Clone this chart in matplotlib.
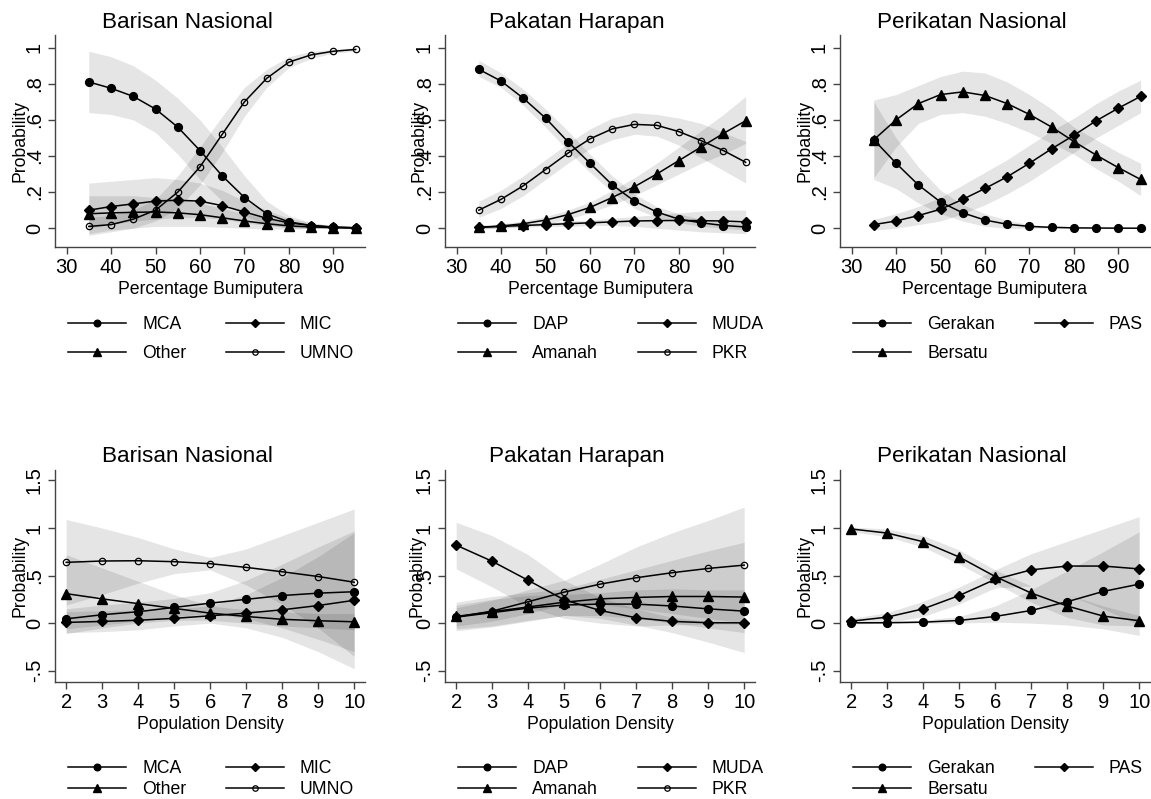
import matplotlib
matplotlib.use('Agg')
import matplotlib.pyplot as plt
from matplotlib.lines import Line2D

plt.rcParams['font.family'] = ['Liberation Sans', 'DejaVu Sans']

W, H = 1151, 799

# ---------------- data ----------------
pct = [35, 40, 45, 50, 55, 60, 65, 70, 75, 80, 85, 90, 95]
den = [2, 3, 4, 5, 6, 7, 8, 9, 10]

# Barisan Nasional vs % Bumiputera
bn_p_mca = [0.81, 0.775, 0.73, 0.66, 0.56, 0.43, 0.29, 0.17, 0.08, 0.035, 0.015, 0.005, 0.002]
bn_p_mca_lo = [0.64, 0.63, 0.60, 0.53, 0.41, 0.27, 0.15, 0.07, 0.02, 0.0, 0.0, 0.0, 0.0]
bn_p_mca_hi = [0.98, 0.95, 0.90, 0.82, 0.72, 0.60, 0.45, 0.29, 0.15, 0.07, 0.03, 0.01, 0.005]
bn_p_mic = [0.10, 0.12, 0.135, 0.15, 0.155, 0.15, 0.125, 0.09, 0.055, 0.03, 0.015, 0.007, 0.003]
bn_p_mic_lo = [0.0, 0.02, 0.04, 0.05, 0.06, 0.06, 0.05, 0.03, 0.015, 0.005, 0.0, 0.0, 0.0]
bn_p_mic_hi = [0.25, 0.26, 0.27, 0.28, 0.27, 0.25, 0.21, 0.15, 0.10, 0.055, 0.03, 0.015, 0.007]
bn_p_oth = [0.08, 0.085, 0.088, 0.09, 0.085, 0.075, 0.058, 0.04, 0.025, 0.013, 0.007, 0.003, 0.001]
bn_p_oth_lo = [-0.03, -0.01, 0.0, 0.01, 0.01, 0.01, 0.005, 0.0, -0.005, -0.005, -0.002, 0.0, 0.0]
bn_p_oth_hi = [0.18, 0.18, 0.18, 0.17, 0.16, 0.14, 0.11, 0.08, 0.055, 0.03, 0.016, 0.008, 0.003]
bn_p_umno = [0.01, 0.02, 0.05, 0.10, 0.20, 0.34, 0.52, 0.70, 0.83, 0.92, 0.96, 0.98, 0.99]
bn_p_umno_lo = [-0.04, -0.02, 0.0, 0.04, 0.11, 0.24, 0.42, 0.62, 0.78, 0.89, 0.94, 0.97, 0.98]
bn_p_umno_hi = [0.06, 0.07, 0.10, 0.16, 0.29, 0.45, 0.62, 0.78, 0.88, 0.95, 0.98, 0.99, 1.0]

# Pakatan Harapan vs % Bumiputera
ph_p_dap = [0.88, 0.815, 0.72, 0.61, 0.48, 0.36, 0.24, 0.15, 0.09, 0.05, 0.03, 0.015, 0.007]
ph_p_dap_lo = [0.84, 0.78, 0.68, 0.56, 0.43, 0.31, 0.20, 0.11, 0.06, 0.03, 0.01, 0.0, -0.01]
ph_p_dap_hi = [0.93, 0.86, 0.77, 0.66, 0.54, 0.41, 0.29, 0.19, 0.12, 0.08, 0.05, 0.035, 0.025]
ph_p_muda = [0.005, 0.01, 0.015, 0.02, 0.025, 0.03, 0.035, 0.04, 0.042, 0.043, 0.042, 0.04, 0.035]
ph_p_muda_lo = [-0.005, 0.0, 0.005, 0.01, 0.01, 0.015, 0.015, 0.01, 0.0, -0.01, -0.02, -0.025, -0.03]
ph_p_muda_hi = [0.015, 0.02, 0.025, 0.03, 0.04, 0.045, 0.055, 0.065, 0.075, 0.085, 0.095, 0.10, 0.10]
ph_p_amanah = [0.005, 0.012, 0.025, 0.045, 0.075, 0.115, 0.17, 0.23, 0.30, 0.375, 0.45, 0.525, 0.595]
ph_p_amanah_lo = [-0.005, 0.0, 0.01, 0.025, 0.05, 0.085, 0.13, 0.18, 0.24, 0.30, 0.36, 0.41, 0.47]
ph_p_amanah_hi = [0.015, 0.025, 0.04, 0.065, 0.10, 0.145, 0.21, 0.28, 0.36, 0.45, 0.54, 0.63, 0.73]
ph_p_pkr = [0.10, 0.16, 0.235, 0.325, 0.415, 0.495, 0.55, 0.575, 0.57, 0.535, 0.485, 0.43, 0.365]
ph_p_pkr_lo = [0.06, 0.11, 0.18, 0.27, 0.36, 0.44, 0.49, 0.52, 0.51, 0.46, 0.39, 0.32, 0.25]
ph_p_pkr_hi = [0.15, 0.21, 0.29, 0.38, 0.47, 0.55, 0.61, 0.64, 0.63, 0.61, 0.58, 0.53, 0.48]

# Perikatan Nasional vs % Bumiputera
pn_p_ger = [0.49, 0.36, 0.24, 0.145, 0.085, 0.045, 0.022, 0.01, 0.005, 0.002, 0.001, 0.0005, 0.0]
pn_p_ger_lo = [0.27, 0.22, 0.14, 0.08, 0.04, 0.01, 0.0, 0.0, 0.0, 0.0, 0.0, 0.0, 0.0]
pn_p_ger_hi = [0.70, 0.50, 0.34, 0.21, 0.13, 0.08, 0.045, 0.02, 0.01, 0.005, 0.002, 0.001, 0.001]
pn_p_pas = [0.02, 0.04, 0.07, 0.105, 0.16, 0.22, 0.285, 0.36, 0.44, 0.515, 0.595, 0.665, 0.73]
pn_p_pas_lo = [-0.01, 0.0, 0.02, 0.04, 0.08, 0.13, 0.19, 0.26, 0.34, 0.42, 0.50, 0.57, 0.64]
pn_p_pas_hi = [0.05, 0.08, 0.12, 0.17, 0.24, 0.31, 0.38, 0.46, 0.54, 0.61, 0.69, 0.76, 0.82]
pn_p_ber = [0.49, 0.60, 0.69, 0.74, 0.755, 0.735, 0.69, 0.63, 0.56, 0.48, 0.405, 0.335, 0.27]
pn_p_ber_lo = [0.28, 0.45, 0.58, 0.63, 0.64, 0.62, 0.58, 0.53, 0.47, 0.41, 0.33, 0.26, 0.18]
pn_p_ber_hi = [0.71, 0.74, 0.79, 0.84, 0.87, 0.86, 0.81, 0.74, 0.66, 0.56, 0.49, 0.42, 0.36]

# Barisan Nasional vs population density
bn_d_mca = [0.045, 0.088, 0.12, 0.165, 0.21, 0.25, 0.29, 0.315, 0.33]
bn_d_mca_lo = [-0.06, -0.02, 0.02, 0.07, 0.10, 0.05, -0.05, -0.17, -0.30]
bn_d_mca_hi = [0.15, 0.19, 0.22, 0.26, 0.32, 0.45, 0.62, 0.80, 0.97]
bn_d_mic = [0.007, 0.018, 0.03, 0.05, 0.077, 0.105, 0.14, 0.185, 0.24]
bn_d_mic_lo = [-0.10, -0.09, -0.07, -0.03, 0.0, -0.05, -0.15, -0.30, -0.48]
bn_d_mic_hi = [0.12, 0.13, 0.14, 0.15, 0.18, 0.30, 0.48, 0.70, 0.95]
bn_d_oth = [0.31, 0.255, 0.205, 0.155, 0.105, 0.07, 0.04, 0.025, 0.014]
bn_d_oth_lo = [-0.11, -0.05, 0.0, 0.03, 0.03, 0.0, -0.03, -0.05, -0.07]
bn_d_oth_hi = [0.72, 0.58, 0.44, 0.30, 0.18, 0.14, 0.12, 0.10, 0.10]
bn_d_umno = [0.639, 0.653, 0.656, 0.646, 0.625, 0.586, 0.54, 0.49, 0.43]
bn_d_umno_lo = [0.19, 0.30, 0.42, 0.52, 0.56, 0.40, 0.20, -0.05, -0.35]
bn_d_umno_hi = [1.09, 1.00, 0.90, 0.78, 0.69, 0.78, 0.92, 1.06, 1.20]

# Pakatan Harapan vs population density
ph_d_dap = [0.063, 0.11, 0.158, 0.19, 0.20, 0.20, 0.18, 0.15, 0.126]
ph_d_dap_lo = [-0.06, -0.03, 0.03, 0.08, 0.08, 0.05, 0.0, -0.05, -0.10]
ph_d_dap_hi = [0.19, 0.25, 0.29, 0.30, 0.32, 0.35, 0.36, 0.35, 0.35]
ph_d_muda = [0.82, 0.65, 0.45, 0.245, 0.133, 0.056, 0.018, 0.004, 0.003]
ph_d_muda_lo = [0.57, 0.38, 0.17, 0.05, 0.0, -0.03, -0.02, -0.01, -0.01]
ph_d_muda_hi = [1.06, 0.92, 0.72, 0.45, 0.27, 0.15, 0.06, 0.02, 0.015]
ph_d_amanah = [0.07, 0.12, 0.17, 0.22, 0.255, 0.27, 0.28, 0.28, 0.274]
ph_d_amanah_lo = [-0.08, -0.04, 0.02, 0.08, 0.05, -0.02, -0.10, -0.20, -0.31]
ph_d_amanah_hi = [0.22, 0.28, 0.32, 0.36, 0.46, 0.56, 0.66, 0.76, 0.85]
ph_d_pkr = [0.063, 0.126, 0.225, 0.326, 0.41, 0.477, 0.53, 0.575, 0.61]
ph_d_pkr_lo = [-0.03, 0.02, 0.10, 0.20, 0.20, 0.15, 0.10, 0.05, 0.0]
ph_d_pkr_hi = [0.16, 0.24, 0.35, 0.45, 0.62, 0.80, 0.95, 1.08, 1.22]

# Perikatan Nasional vs population density
pn_d_ger = [0.003, 0.004, 0.01, 0.028, 0.07, 0.133, 0.225, 0.333, 0.41]
pn_d_ger_lo = [0.0, 0.0, 0.0, 0.0, 0.01, 0.0, -0.02, -0.06, -0.13]
pn_d_ger_hi = [0.01, 0.01, 0.03, 0.07, 0.18, 0.35, 0.55, 0.75, 0.96]
pn_d_pas = [0.02, 0.063, 0.15, 0.29, 0.46, 0.56, 0.60, 0.60, 0.57]
pn_d_pas_lo = [-0.01, 0.0, 0.07, 0.20, 0.37, 0.39, 0.30, 0.15, -0.02]
pn_d_pas_hi = [0.05, 0.11, 0.23, 0.38, 0.56, 0.73, 0.86, 0.99, 1.12]
pn_d_ber = [0.99, 0.947, 0.856, 0.695, 0.49, 0.316, 0.18, 0.074, 0.025]
pn_d_ber_lo = [0.96, 0.91, 0.80, 0.62, 0.42, 0.22, 0.06, -0.02, -0.03]
pn_d_ber_hi = [1.01, 0.99, 0.92, 0.77, 0.56, 0.39, 0.30, 0.18, 0.08]

titles = ['Barisan Nasional', 'Pakatan Harapan', 'Perikatan Nasional']
xlabels = ['Percentage Bumiputera', 'Population Density']
ylabel = 'Probability'
yticks_top = [0, 0.2, 0.4, 0.6, 0.8, 1.0]
yticklabels_top = ['0', '.2', '.4', '.6', '.8', '1']
yticks_bot = [-0.5, 0, 0.5, 1.0, 1.5]
yticklabels_bot = ['-.5', '0', '.5', '1', '1.5']
xticks_top = [30, 40, 50, 60, 70, 80, 90]
xticks_bot = [2, 3, 4, 5, 6, 7, 8, 9, 10]

# ---------------- styles ----------------
STY = {
    'fc': dict(marker='o', ms=5.6, mfc='black', mec='black'),
    'dm': dict(marker='D', ms=5.0, mfc='black', mec='black'),
    'tr': dict(marker='^', ms=6.8, mfc='black', mec='black'),
    'oc': dict(marker='o', ms=4.6, mfc='none', mec='black', mew=0.9),
}

panels_top = [
    [('MCA', 'fc', bn_p_mca, bn_p_mca_lo, bn_p_mca_hi),
     ('MIC', 'dm', bn_p_mic, bn_p_mic_lo, bn_p_mic_hi),
     ('Other', 'tr', bn_p_oth, bn_p_oth_lo, bn_p_oth_hi),
     ('UMNO', 'oc', bn_p_umno, bn_p_umno_lo, bn_p_umno_hi)],
    [('DAP', 'fc', ph_p_dap, ph_p_dap_lo, ph_p_dap_hi),
     ('MUDA', 'dm', ph_p_muda, ph_p_muda_lo, ph_p_muda_hi),
     ('Amanah', 'tr', ph_p_amanah, ph_p_amanah_lo, ph_p_amanah_hi),
     ('PKR', 'oc', ph_p_pkr, ph_p_pkr_lo, ph_p_pkr_hi)],
    [('Gerakan', 'fc', pn_p_ger, pn_p_ger_lo, pn_p_ger_hi),
     ('PAS', 'dm', pn_p_pas, pn_p_pas_lo, pn_p_pas_hi),
     ('Bersatu', 'tr', pn_p_ber, pn_p_ber_lo, pn_p_ber_hi)],
]
panels_bot = [
    [('MCA', 'fc', bn_d_mca, bn_d_mca_lo, bn_d_mca_hi),
     ('MIC', 'dm', bn_d_mic, bn_d_mic_lo, bn_d_mic_hi),
     ('Other', 'tr', bn_d_oth, bn_d_oth_lo, bn_d_oth_hi),
     ('UMNO', 'oc', bn_d_umno, bn_d_umno_lo, bn_d_umno_hi)],
    [('DAP', 'fc', ph_d_dap, ph_d_dap_lo, ph_d_dap_hi),
     ('MUDA', 'dm', ph_d_muda, ph_d_muda_lo, ph_d_muda_hi),
     ('Amanah', 'tr', ph_d_amanah, ph_d_amanah_lo, ph_d_amanah_hi),
     ('PKR', 'oc', ph_d_pkr, ph_d_pkr_lo, ph_d_pkr_hi)],
    [('Gerakan', 'fc', pn_d_ger, pn_d_ger_lo, pn_d_ger_hi),
     ('PAS', 'dm', pn_d_pas, pn_d_pas_lo, pn_d_pas_hi),
     ('Bersatu', 'tr', pn_d_ber, pn_d_ber_lo, pn_d_ber_hi)],
]

fig = plt.figure(figsize=(W / 100, H / 100), dpi=100)
fig.patch.set_facecolor('white')

lefts = [55, 445, 840]
ylab_x = [[-0.087, -0.058, -0.087], [-0.084, -0.063, -0.087]]
AXW = 310
AX_COLOR = '#444444'


def px2fig(x, y):
    return x / W, 1 - y / H


def draw_panel(col, row, series, xs):
    if row == 0:
        top, bot = 35, 247
        ylim = (-0.104, 1.07)
        xlim = (27.4, 97.1)
        yt, ytl, xt = yticks_top, yticklabels_top, xticks_top
        title_base = 28
        leg_top = 316
        lsp = 0.70
    else:
        top, bot = 470, 681.7
        ylim = (-0.616, 1.61)
        xlim = (1.69, 10.3)
        yt, ytl, xt = yticks_bot, yticklabels_bot, xticks_bot
        title_base = 462
        leg_top = 760
        lsp = 0.22
    l = lefts[col]
    ax = fig.add_axes([l / W, 1 - bot / H, AXW / W, (bot - top) / H])
    ax.set_facecolor('none')
    for name, sty, v, lo, hi in series:
        ax.fill_between(xs, lo, hi, color='black', alpha=0.1, lw=0, zorder=1)
    for name, sty, v, lo, hi in series:
        ax.plot(xs, v, color='black', lw=1.1, zorder=3, **STY[sty])
    ax.set_xlim(*xlim)
    ax.set_ylim(*ylim)
    ax.set_xticks(xt)
    ax.set_yticks(yt)
    ax.set_yticklabels(ytl, rotation=90, va='center')
    for s in ['top', 'right']:
        ax.spines[s].set_visible(False)
    for s in ['left', 'bottom']:
        ax.spines[s].set_color(AX_COLOR)
        ax.spines[s].set_linewidth(1.0)
    ax.tick_params(axis='both', colors=AX_COLOR, labelcolor='black', length=5,
                   width=1.0, labelsize=14.5, pad=3)
    ax.set_xlabel(xlabels[row], fontsize=12.7, labelpad=3)
    ax.set_ylabel(ylabel, fontsize=12.7)
    ax.yaxis.set_label_coords(ylab_x[row][col], 0.5)
    fx, fy = px2fig(l + 132, title_base)
    fig.text(fx, fy, titles[col], fontsize=16.2, ha='center', va='baseline')

    names = [s[0] for s in series]
    if len(names) == 4:
        order = [names[0], names[2], names[1], names[3]]
    else:
        order = [names[0], names[2], names[1]]
    hs = []
    for n in order:
        sty = [s[1] for s in series if s[0] == n][0]
        st = dict(STY[sty])
        st['ms'] = st['ms'] * 0.85
        hs.append(Line2D([], [], color='black', lw=1.1, **st))
    ax_x, ax_y = px2fig(l + 13, leg_top)
    ax.legend(hs, order, ncol=2, loc='upper left', bbox_to_anchor=(ax_x, ax_y),
              bbox_transform=fig.transFigure, frameon=False, fontsize=12.7,
              borderpad=0, borderaxespad=0, handlelength=3.3, handletextpad=0.9,
              columnspacing=2.25, labelspacing=lsp)


for c in range(3):
    draw_panel(c, 0, panels_top[c], pct)
    draw_panel(c, 1, panels_bot[c], den)

fig.savefig('out.png', dpi=100, facecolor='white')
